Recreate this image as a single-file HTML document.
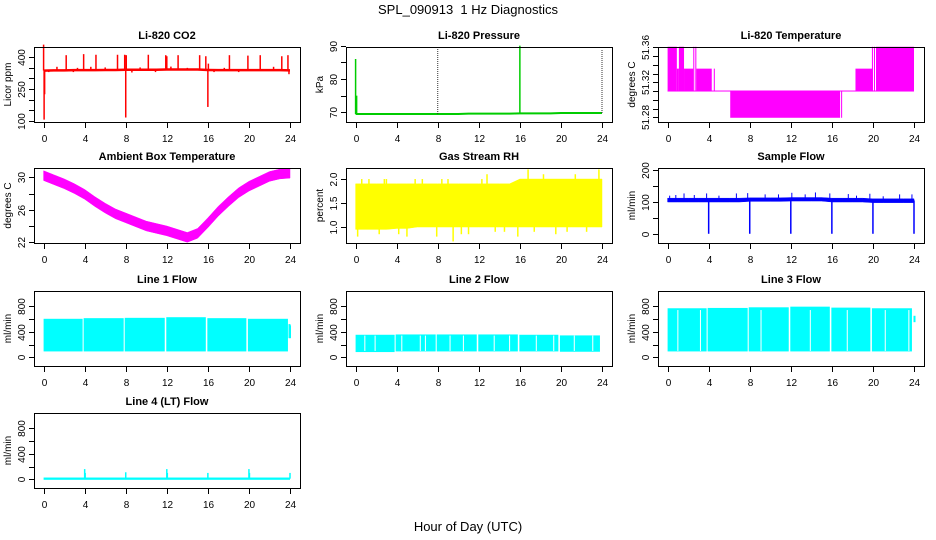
<!DOCTYPE html>
<html><head><meta charset="utf-8">
<style>
html,body{margin:0;padding:0;background:#fff;}
svg{display:block;font-family:"Liberation Sans",Arial,sans-serif;}
</style></head>
<body>
<svg id="chart" width="936" height="540" viewBox="0 0 936 540" xmlns="http://www.w3.org/2000/svg">
<text x="468" y="14" text-anchor="middle" font-size="13">SPL_090913&#160; 1 Hz Diagnostics</text>
<text x="468" y="531" text-anchor="middle" font-size="13">Hour of Day (UTC)</text>
</svg>
<script>
// ---------- data ----------
const hours = [0,1,2,3,4,5,6,7,8,9,10,11,12,13,14,15,16,17,18,19,20,21,22,23,24];
const xTicks = [0,4,8,12,16,20,24];

const co2Base = [337,338,338,339,339,339,340,340,341,341,341,341,342,342,342,342,340,339,339,339,339,339,339,339,338];
const co2SpikeT = [0.0,0.05,0.1,0.5,1.3,2.2,2.9,3.3,3.9,4.6,5.1,6.0,7.2,7.9,8.0,8.05,8.6,9.4,10.2,10.9,11.9,12.0,12.4,13.1,14.0,15.2,15.8,16.0,16.05,16.6,17.6,18.1,19.0,19.9,21.1,22.4,23.2,23.8,23.9];
const co2SpikeV = [460,105,225,330,355,410,330,350,415,355,412,352,412,412,115,410,328,352,412,330,410,405,356,410,350,410,405,165,370,330,350,410,330,408,410,355,405,410,320];

const presBase = [69.5,69.5,69.5,69.5,69.5,69.5,69.5,69.5,69.5,69.5,69.5,69.6,69.6,69.6,69.6,69.6,69.7,69.7,69.7,69.7,69.8,69.8,69.8,69.8,69.8];
const presSpikeT = [0.0,0.1,8.0,16.0,24.0];
const presSpikeV = [86,75,89,90,89];
const presSpikeDotted = [false,false,true,false,true];

const tempStart = [0,0.9,1.1,1.6,2.5,2.7,2.8,4.5,6.1,16.9,18.3,19.9,20.1,20.3];
const tempEnd   = [0.9,1.1,1.6,2.5,2.6,2.8,4.3,4.6,16.8,17.0,20.0,20.0,20.2,24.0];
const tempLo    = [51.31,51.31,51.31,51.31,51.31,51.31,51.31,51.31,51.28,51.28,51.31,51.31,51.31,51.31];
const tempHi    = [51.36,51.335,51.36,51.335,51.36,51.36,51.335,51.335,51.31,51.31,51.335,51.36,51.36,51.36];

const ambMid = [30.2,29.7,29.2,28.6,27.9,27.0,26.2,25.5,25.0,24.5,24.0,23.7,23.4,23.0,22.6,23.1,24.4,25.8,27.0,28.1,28.9,29.5,30.1,30.4,30.5];
const ambHalfWidth = 0.6;

const rhHi = [1.9,1.9,1.9,1.9,1.9,1.9,1.9,1.9,1.9,1.9,1.9,1.9,1.9,1.9,1.9,1.9,2.0,2.0,2.0,2.0,2.0,2.0,2.0,2.0,2.0];
const rhLo = [0.95,0.95,0.95,0.95,0.97,0.97,1.0,1.0,1.0,1.0,1.0,1.0,1.0,1.0,1.0,1.0,1.0,1.0,1.0,1.0,1.0,1.0,1.0,1.0,1.0];
const rhSpikeT = [0.2,0.6,1.3,2.3,2.8,3.0,4.2,5.0,5.8,6.5,7.9,8.4,9.0,9.5,10.3,11.0,12.3,12.8,13.6,14.5,15.8,16.8,17.4,18.3,19.5,20.6,21.4,22.5,23.7];
const rhSpikeV = [0.8,2.0,2.0,0.85,2.0,2.0,0.85,0.8,2.0,2.0,0.8,2.0,2.0,0.7,0.85,0.85,2.0,2.1,0.9,0.9,0.8,2.2,0.9,2.1,0.85,0.9,2.1,0.9,2.2];

const sfLo = [100,100,100,100,100,100,100,100,102,102,102,102,103,103,103,103,100,100,100,100,98,98,98,98,98];
const sfHi = [112,112,112,112,112,112,112,112,113,113,113,113,114,114,114,114,112,112,112,112,110,110,110,110,110];
const sfSpikeT = [0.2,0.8,1.6,2.6,3.8,5.0,6.7,7.8,9.5,10.8,12.1,13.4,14.4,15.8,17.6,18.4,19.7,21.0,22.6,23.8];
const sfSpikeV = [120,122,127,122,127,120,127,128,124,124,129,124,130,127,125,120,126,118,124,124];
const sfDipT = [4,8,12,16,20,24];
const sfDipV = [0,0,0,0,0,0];

const segStart = [0,3.9,7.9,11.95,15.95,19.9];
const segEnd   = [3.8,7.8,11.8,15.8,19.75,23.8];
const l1Hi = [595,605,610,620,605,595];
const l1Lo = [100,100,100,100,100,100];
const l1EndT = [23.95,24];
const l1EndV = [520,500];

const l2Hi = [345,350,350,350,345,335];
const l2Lo = [90,100,100,100,100,95];
const l2GapT = [0.9,1.9,4.5,6.3,6.8,9.2,10.5,13.5,15.0,17.6,19.3,21.3,23.1];

const l3Hi = [760,765,775,785,770,760];
const l3Lo = [100,100,100,100,100,100];
const l3GapT = [1.0,3.2,9.1,13.9,17.5,21.2,23.5];
const l3EndT = [24.05];
const l3EndV = [650];

const l4Base = 10;
const l4SpikeT = [4.0,4.05,8.0,12.0,12.05,16.0,20.0,20.05,24.0];
const l4SpikeV = [160,100,110,160,100,100,160,100,100];

// ---------- helpers ----------
const NS = "http://www.w3.org/2000/svg";
const svg = document.getElementById("chart");
const COLS = [34,346,658], ROWS = [47,168,291,413], W = 266, H = 75;
function mk(tag, attrs, parent) {
  const e = document.createElementNS(NS, tag);
  for (const k in attrs) e.setAttribute(k, attrs[k]);
  (parent || svg).appendChild(e);
  return e;
}
function panel(c, r, name, title, ylab, ymin, ymax, yticks, ylabels) {
  const L = COLS[c], T = ROWS[r];
  const g = mk("g", {});
  
  
  const X = h => L + 9.6 + h / 24 * 246.4;
  const Y = v => T + H - (v - ymin) / (ymax - ymin) * H;
  const t = mk("text", {x: L + W / 2, y: T - 8, "text-anchor": "middle", "font-size": 11, "font-weight": "bold"}, g);
  t.textContent = title;
  
  
  const data = mk("g", {}, g);
  
  
  const frame = mk("rect", {x: L + 0.5, y: T + 0.5, width: W, height: H, fill: "none", stroke: "#000", "stroke-width": 1}, g);
  
  
  const xa = mk("g", {}, g);
  
  
  mk("line", {x1: X(0), x2: X(24), y1: T + H + 0.5, y2: T + H + 0.5, stroke: "#000"}, xa);
  xTicks.forEach(v => {
    const x = Math.round(X(v)) + 0.5;
    mk("line", {x1: x, x2: x, y1: T + H, y2: T + H + 6, stroke: "#000"}, xa);
    const tl = mk("text", {x: x, y: T + H + 20, "text-anchor": "middle", "font-size": 10}, xa);
    tl.textContent = v;
  });
  const ya = mk("g", {}, g);
  
  
  yticks.forEach((v, i) => {
    const y = Math.round(Y(v)) + 0.5;
    mk("line", {x1: L - 5, x2: L, y1: y, y2: y, stroke: "#000"}, ya);
    if (ylabels[i] !== "") {
      const tl = mk("text", {x: 0, y: 0, "text-anchor": "middle", "font-size": 10,
        transform: `translate(${L - 9},${y}) rotate(-90)`}, ya);
      tl.textContent = ylabels[i];
    }
  });
  const yl = mk("text", {x: 0, y: 0, "text-anchor": "middle", "font-size": 10,
    transform: `translate(${L - 23},${T + H / 2}) rotate(-90)`}, g);
  yl.textContent = ylab;
  
  
  return {X, Y, g: data, L, T};
}
function vline(p, h, v1, v2, color, w, dash) {
  const a = {x1: p.X(h), x2: p.X(h), y1: p.Y(v1), y2: p.Y(v2), stroke: color, "stroke-width": w || 1};
  if (dash) a["stroke-dasharray"] = dash;
  return mk("line", a, p.g);
}
function polyline(p, xs, ys, color, w) {
  return mk("polyline", {points: xs.map((h, i) => p.X(h) + "," + p.Y(ys[i])).join(" "), fill: "none", stroke: color, "stroke-width": w}, p.g);
}
function band(p, xs, lo, hi, color) {
  const pts = xs.map((h, i) => p.X(h) + "," + p.Y(hi[i])).concat(xs.slice().reverse().map((h, i) => p.X(h) + "," + p.Y(lo[xs.length - 1 - i])));
  return mk("polygon", {points: pts.join(" "), fill: color, stroke: color, "stroke-width": 0.5}, p.g);
}
function box(p, h1, h2, lo, hi, color) {
  const y1 = p.Y(hi), y2 = p.Y(lo);
  return mk("rect", {x: p.X(h1), y: y1 - 0.5, width: Math.max(1, p.X(h2) - p.X(h1)), height: Math.max(1, y2 - y1 + 1), fill: color}, p.g);
}

// ---------- CO2 ----------
let p = panel(0, 0, "co2", "Li-820 CO2", "Licor ppm", 93.8, 448.7, [100,150,200,250,300,350,400], ["100","","","250","","","400"]);
polyline(p, hours, co2Base, "#ff0000", 2.5);
co2SpikeT.forEach((h, i) => { const b = co2Base[Math.min(24, Math.round(h))]; vline(p, h, b, co2SpikeV[i], "#ff0000", 1.5); });

// ---------- Pressure ----------
p = panel(1, 0, "pressure", "Li-820 Pressure", "kPa", 67.1, 89.6, [70,75,80,85,90], ["70","","80","","90"]);
polyline(p, hours, presBase, "#00cc00", 2);
presSpikeT.forEach((h, i) => {
  const b = presBase[Math.min(24, Math.round(h))];
  if (presSpikeDotted[i]) vline(p, h, b, presSpikeV[i], "#333", 1, "1,1");
  else vline(p, h, b, presSpikeV[i], "#00cc00", 1.5);
});

// ---------- Li-820 Temperature ----------
p = panel(2, 0, "li820-temp", "Li-820 Temperature", "degrees C", 51.2746, 51.3603, [51.28,51.29,51.30,51.31,51.32,51.33,51.34,51.35,51.36], ["51.28","","","","51.32","","","","51.36"]);
box(p, 0, 24, 51.31, 51.31, "#ff00ff");
tempStart.forEach((h, i) => box(p, h, tempEnd[i], tempLo[i], tempHi[i], "#ff00ff"));

// ---------- Ambient ----------
p = panel(0, 1, "ambient-temp", "Ambient Box Temperature", "degrees C", 21.91, 31.14, [22,24,26,28,30], ["22","","26","","30"]);
band(p, hours, ambMid.map(v => v - ambHalfWidth), ambMid.map(v => v + ambHalfWidth), "#ff00ff");

// ---------- RH ----------
p = panel(1, 1, "gas-rh", "Gas Stream RH", "percent", 0.667, 2.23, [1.0,1.5,2.0], ["1.0","1.5","2.0"]);
band(p, hours, rhLo, rhHi, "#ffff00");
rhSpikeT.forEach((h, i) => vline(p, h, 1.5, rhSpikeV[i], "#ffff00", 1.5));

// ---------- Sample flow ----------
p = panel(2, 1, "sample-flow", "Sample Flow", "ml/min", -29, 207, [0,50,100,150,200], ["0","","100","","200"]);
band(p, hours, sfLo, sfHi, "#0000ff");
sfSpikeT.forEach((h, i) => vline(p, h, 105, sfSpikeV[i], "#0000ff", 1));
sfDipT.forEach((h, i) => vline(p, h, 105, sfDipV[i], "#0000ff", 1.5));

// ---------- Line flows ----------
const flowTicks = [0,200,400,600,800], flowLabels = ["0","","400","","800"];
p = panel(0, 2, "line1-flow", "Line 1 Flow", "ml/min", -136, 1038, flowTicks, flowLabels);
segStart.forEach((h, i) => box(p, h, segEnd[i], l1Lo[i], l1Hi[i], "#00ffff"));
l1EndT.forEach((h, i) => vline(p, h, 300, l1EndV[i], "#00ffff", 2));

p = panel(1, 2, "line2-flow", "Line 2 Flow", "ml/min", -136, 1038, flowTicks, flowLabels);
segStart.forEach((h, i) => box(p, h, segEnd[i], l2Lo[i], l2Hi[i], "#00ffff"));
l2GapT.forEach(h => vline(p, h, 100, 340, "#ffffff", 1));

p = panel(2, 2, "line3-flow", "Line 3 Flow", "ml/min", -136, 1038, flowTicks, flowLabels);
segStart.forEach((h, i) => box(p, h, segEnd[i], l3Lo[i], l3Hi[i], "#00ffff"));
l3GapT.forEach(h => vline(p, h, 100, 740, "#ffffff", 1));
l3EndT.forEach((h, i) => vline(p, h, 550, l3EndV[i], "#00ffff", 2));

p = panel(0, 3, "line4-flow", "Line 4 (LT) Flow", "ml/min", -136, 1038, flowTicks, flowLabels);
box(p, 0, 24, 0, 20, "#00ffff");
l4SpikeT.forEach((h, i) => vline(p, h, l4Base, l4SpikeV[i], "#00ffff", 1.5));
</script>
</body></html>
